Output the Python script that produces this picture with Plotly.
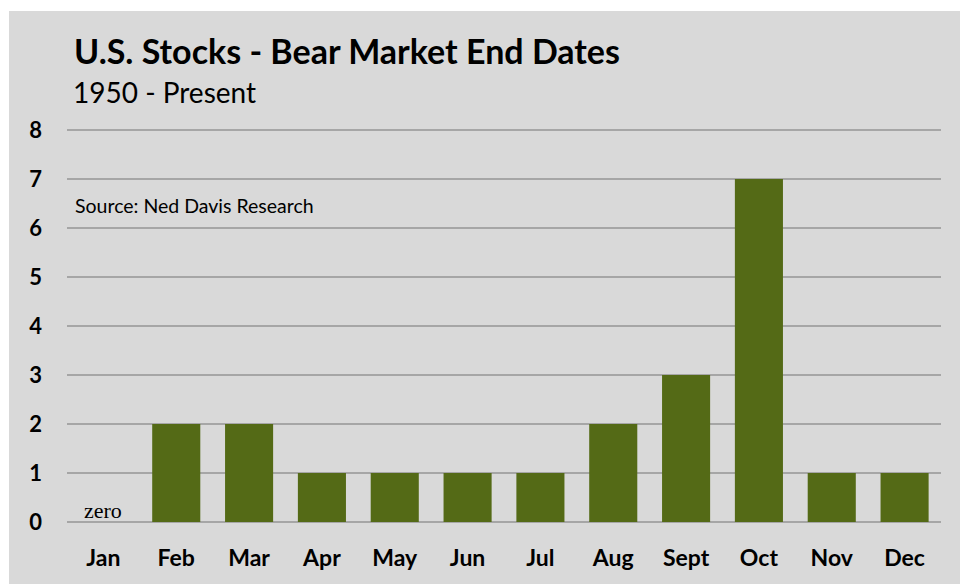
import plotly.graph_objects as go

months = ["Jan", "Feb", "Mar", "Apr", "May", "Jun", "Jul", "Aug", "Sept", "Oct", "Nov", "Dec"]
counts = [0, 2, 2, 1, 1, 1, 1, 2, 3, 7, 1, 1]
y_ticks = [0, 1, 2, 3, 4, 5, 6, 7, 8]

BAR = "#546A16"
GRID = "#A6A6A6"
BG = "#D9D9D9"
FONT = "Lato"

L, R, T, B = 67, 19, 125, 62
W, H = 960, 584
pw, ph = W - L - R, H - T - B


def py(pix):
    return (T + ph - pix) / ph


fig = go.Figure(go.Bar(x=months, y=counts, marker_color=BAR, marker_line_width=0, width=0.66))

fig.add_shape(type="rect", xref="paper", yref="paper",
              x0=(9 - L) / pw, x1=(W - L) / pw, y0=py(H + 5), y1=py(11),
              fillcolor=BG, line_width=0, layer="below")

fig.add_annotation(text="<b>U.S. Stocks - Bear Market End Dates</b>", xref="paper", yref="paper",
                   x=(72 - L) / pw, y=py(51), xanchor="left", yanchor="middle",
                   showarrow=False, font=dict(family=FONT, size=34, color="#000000"))
fig.add_annotation(text="1950 - Present", xref="paper", yref="paper",
                   x=(71 - L) / pw, y=py(92), xanchor="left", yanchor="middle",
                   showarrow=False, font=dict(family=FONT, size=28, color="#000000"))
fig.add_annotation(text="Source: Ned Davis Research", xref="paper", yref="paper",
                   x=(73 - L) / pw, y=py(205), xanchor="left", yanchor="middle",
                   showarrow=False, font=dict(family=FONT, size=19.5, color="#000000"))
fig.add_annotation(text="zero", x=months[0], y=counts[0], yshift=12, xref="x", yref="y",
                   xanchor="center", yanchor="middle", showarrow=False,
                   font=dict(family="Liberation Serif", size=22, color="#000000"))

fig.update_layout(
    width=W, height=H,
    margin=dict(l=L, r=R, t=T, b=B, pad=0),
    paper_bgcolor="white", plot_bgcolor="rgba(0,0,0,0)",
    showlegend=False, bargap=0.34,
    font=dict(family=FONT, color="#000000"),
)
fig.update_xaxes(showgrid=False, showline=False, ticks="", ticklabelstandoff=20,
                 tickfont=dict(family=FONT, size=23, weight="bold"))
fig.update_yaxes(range=[0, 8.1], tickvals=y_ticks, showgrid=True, gridcolor=GRID, gridwidth=2,
                 zeroline=True, zerolinecolor=GRID, zerolinewidth=2, showline=False, ticks="",
                 ticklabelstandoff=24, tickfont=dict(family=FONT, size=22, weight="bold"))

fig.write_html("out.html")
